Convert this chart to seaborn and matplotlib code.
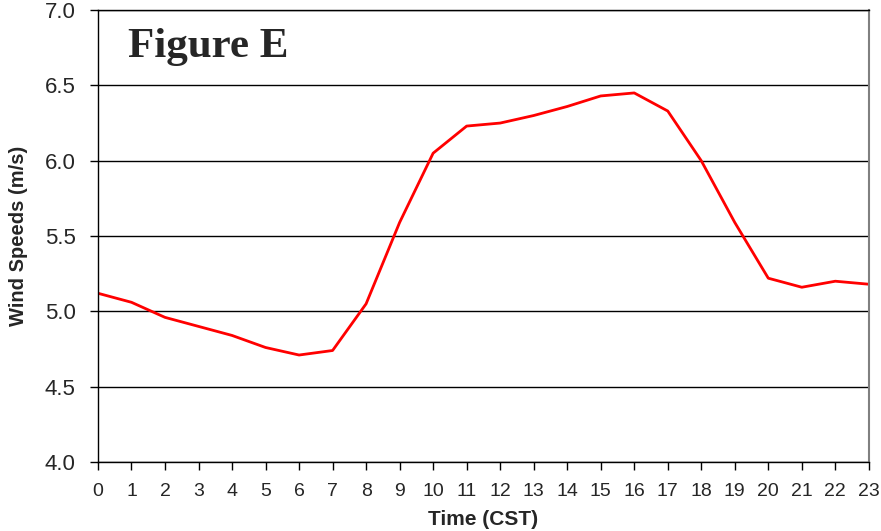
import matplotlib
matplotlib.use("Agg")
import matplotlib.pyplot as plt
import seaborn as sns
import pandas as pd

# Hourly wind speeds
hours = list(range(24))
wind_speed = [5.12, 5.06, 4.96, 4.90, 4.84, 4.76, 4.71, 4.74, 5.05, 5.59,
              6.05, 6.23, 6.25, 6.30, 6.36, 6.43, 6.45, 6.33, 6.00, 5.59,
              5.22, 5.16, 5.20, 5.18]
y_ticks = [4.0, 4.5, 5.0, 5.5, 6.0, 6.5, 7.0]

df = pd.DataFrame({"hour": hours, "speed": wind_speed})

sns.set_style("white")
plt.rcParams['font.family'] = ['Liberation Sans', 'DejaVu Sans']

fig = plt.figure(figsize=(8.81, 5.31), dpi=100)
ax = fig.add_axes([0.1112, 0.13, 0.875, 0.851])

sns.lineplot(data=df, x="hour", y="speed", color="#ff0000", linewidth=2, ax=ax)

ax.set_xlim(0, 23)
ax.set_ylim(4.0, 7.0)
ax.set_xticks(hours)
ax.set_yticks(y_ticks)
ax.set_yticklabels([f"{v:.1f}" for v in y_ticks])
ax.yaxis.grid(True, color="black", linewidth=1)
ax.set_axisbelow(True)

for side in ["left", "bottom", "top"]:
    ax.spines[side].set_color("black")
    ax.spines[side].set_linewidth(1)
ax.spines["right"].set_color("#808080")
ax.spines["right"].set_linewidth(1.5)

ax.tick_params(axis="both", direction="out", length=6, width=1, color="black",
               bottom=True, left=True)
ax.tick_params(axis="x", labelsize=14, pad=9)
ax.tick_params(axis="y", labelsize=16, pad=10)

ax.set_xlabel("Time (CST)", fontsize=15, fontweight="bold", labelpad=7)
ax.set_ylabel("Wind Speeds (m/s)", fontsize=14.5, fontweight="bold", labelpad=12)

ax.text(0.039, 0.96, "Figure E", transform=ax.transAxes, fontsize=31,
        fontweight="bold", family=["Liberation Serif", "DejaVu Serif"],
        va="top", ha="left")

fig.savefig("out.png", dpi=100)
